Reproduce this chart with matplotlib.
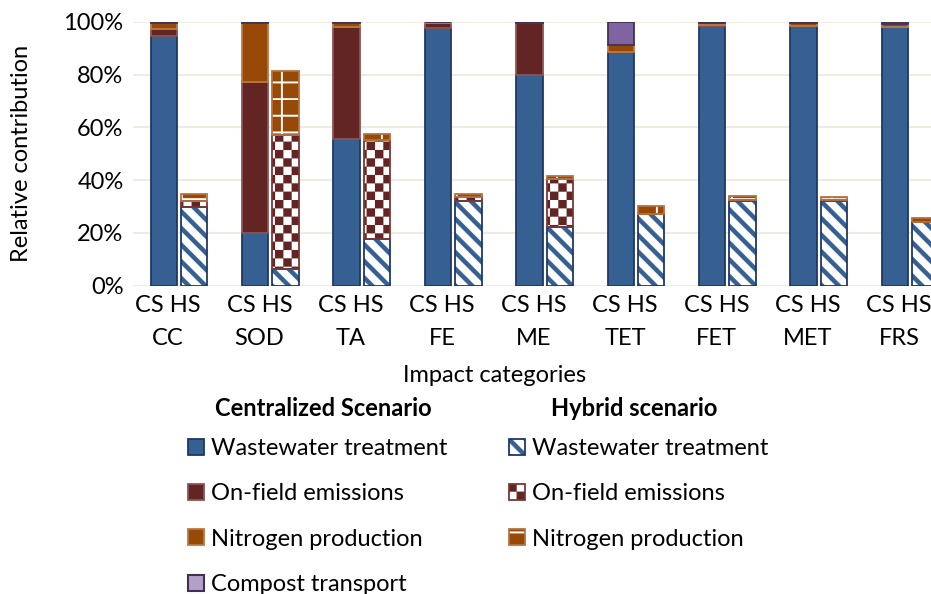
import numpy as np
import matplotlib
matplotlib.use("Agg")
import matplotlib.pyplot as plt
import matplotlib.hatch as mhatch
from matplotlib.path import Path
from matplotlib.patches import Patch

# ---------------- data ----------------
categories = ["CC", "SOD", "TA", "FE", "ME", "TET", "FET", "MET", "FRS"]
scenario_labels = ["CS", "HS"]

cs_wastewater = [94.7, 19.8, 55.4, 97.7, 79.8, 88.4, 98.5, 98.4, 98.0]
cs_onfield    = [2.5, 57.5, 42.5, 1.9, 19.8, 0.0, 0.1, 0.1, 0.0]
cs_nitrogen   = [2.2, 22.3, 1.7, 0.1, 0.0, 2.9, 1.0, 1.1, 1.1]
cs_compost    = [0.6, 0.4, 0.4, 0.3, 0.4, 8.7, 0.4, 0.4, 0.9]

hs_wastewater = [29.9, 6.2, 17.6, 32.2, 22.3, 27.0, 32.1, 32.1, 24.0]
hs_onfield    = [2.3, 50.9, 37.6, 1.4, 18.1, 0.3, 0.2, 0.2, 0.1]
hs_nitrogen   = [2.5, 24.2, 2.3, 1.1, 1.1, 3.0, 1.5, 1.4, 1.5]

series_labels = ["Wastewater treatment", "On-field emissions",
                 "Nitrogen production", "Compost transport"]
legend_titles = ["Centralized Scenario", "Hybrid scenario"]

# ---------------- custom filled hatch patterns ----------------
class _PolyHatch:
    char = None
    def __init__(self, hatch, density):
        self.polys = self.make_polys() if (self.char in hatch) else []
        self.num_vertices = sum(len(p) + 1 for p in self.polys)
    def make_polys(self):
        return []
    def set_vertices_and_codes(self, vertices, codes):
        i = 0
        for p in self.polys:
            n = len(p)
            vertices[i:i + n] = p
            vertices[i + n] = p[0]
            codes[i] = Path.MOVETO
            codes[i + 1:i + n] = Path.LINETO
            codes[i + n] = Path.CLOSEPOLY
            i += n + 1

class StripeHatch(_PolyHatch):          # thick stripes falling to the right
    char = "\\"
    def make_polys(self):
        polys = []
        per, w = 1 / 6, 0.062
        for k in range(-2, 16):
            c = k * per
            polys.append(np.array([[-1, c + 1], [2, c - 2], [2, c + w - 2], [-1, c + w + 1]]))
        return polys

class CheckerHatch(_PolyHatch):         # checkerboard
    char = "O"
    def make_polys(self):
        polys = []
        n = 12
        s = 1 / n
        for i in range(n):
            for j in range(n):
                if (i + j) % 2 == 0:
                    polys.append(np.array([[i * s, j * s], [(i + 1) * s, j * s],
                                           [(i + 1) * s, (j + 1) * s], [i * s, (j + 1) * s]]))
        return polys

class PlusHatch(_PolyHatch):            # thin grid lines
    char = "+"
    def make_polys(self):
        polys = []
        t = 0.018
        for k in range(6):
            y = k / 6
            polys.append(np.array([[0, y], [1, y], [1, y + t], [0, y + t]]))
        for k in range(4):
            xx = k / 4 + 0.06
            polys.append(np.array([[xx, 0], [xx + t, 0], [xx + t, 1], [xx, 1]]))
        return polys

mhatch._hatch_types = [StripeHatch, CheckerHatch, PlusHatch]

# ---------------- style ----------------
FONT = "Lato"
FS = 17
plt.rcParams["font.family"] = [FONT, "DejaVu Sans"]
plt.rcParams["font.size"] = FS
plt.rcParams["hatch.linewidth"] = 0.1

c_ww, c_of, c_n, c_ct = "#366092", "#632523", "#984807", "#8064A2"
e_ww, e_of, e_n, e_ct = "#1F3864", "#8A5654", "#B97A45", "#3F3151"

W, H = 931, 594
fig = plt.figure(figsize=(W / 100, H / 100), dpi=100)
ax_left, ax_right_span = 133.3, 822.6
ax_top, ax_bot = 21.7, 285.7
ax = fig.add_axes([ax_left / W, 1 - ax_bot / H, ax_right_span / W, (ax_bot - ax_top) / H])

x = np.arange(len(categories))
bw, off = 0.29, 0.166
xc, xh = x - off, x + off

# Centralized scenario bars
b = np.zeros(len(x))
cs_handles = []
for vals, fc, ec, lab in [(cs_wastewater, c_ww, e_ww, series_labels[0]),
                          (cs_onfield, c_of, e_of, series_labels[1]),
                          (cs_nitrogen, c_n, e_n, series_labels[2]),
                          (cs_compost, c_ct, e_ct, series_labels[3])]:
    h = ax.bar(xc, vals, bw, bottom=b, color=fc, edgecolor=ec, linewidth=1.3, label=lab, zorder=3)
    cs_handles.append(h)
    b = b + np.array(vals)
# legend swatch for compost transport is drawn lighter in the original
cs_handles[3] = Patch(facecolor="#B3A2C7", edgecolor=e_ct, linewidth=1.5)

# Hybrid scenario bars (hatched fill + outline)
b = np.zeros(len(x))
hs_handles = []
for vals, fc, hc, ec, hp, lab in [(hs_wastewater, "white", c_ww, e_ww, "\\", series_labels[0]),
                                  (hs_onfield, "white", c_of, "#7A3836", "O", series_labels[1]),
                                  (hs_nitrogen, c_n, "white", "#B4733E", "+", series_labels[2])]:
    h1 = ax.bar(xh, vals, bw, bottom=b, color=fc, edgecolor=hc, linewidth=0, hatch=hp, zorder=3)
    h2 = ax.bar(xh, vals, bw, bottom=b, fill=False, edgecolor=ec, linewidth=1.3, zorder=4)
    hs_handles.append((h1, h2))
    b = b + np.array(vals)

# axes styling
ax.set_xlim(-0.5, len(categories) - 0.5)
ax.set_ylim(0, 100)
ax.set_yticks(np.arange(0, 101, 20))
ax.set_yticklabels([f"{v}%" for v in range(0, 101, 20)])
ax.yaxis.grid(True, color="#EEECE1", linewidth=1.5)
ax.set_axisbelow(True)
for s in ax.spines.values():
    s.set_visible(False)
ax.tick_params(axis="both", length=0)
ax.tick_params(axis="y", pad=7)
ax.tick_params(axis="x", pad=7)
ax.set_xticks(x - 0.12)
ax.set_xticklabels([f"{scenario_labels[0]} {scenario_labels[1]}\n{c}" for c in categories],
                   linespacing=1.7)

ax.set_ylabel("Relative contribution")
ax.yaxis.label.set_va("center")
ax.yaxis.set_label_coords((22 - ax_left) / ax_right_span, 0.5)
ax.set_xlabel("Impact categories")
ax.xaxis.label.set_va("center")
ax.xaxis.set_label_coords((495 - ax_left) / ax_right_span, (ax_bot - 376) / (ax_bot - ax_top))

# legends
leg_kw = dict(loc="upper left", frameon=False, handlelength=0.68, handleheight=0.68,
              handletextpad=0.3, labelspacing=1.03, borderpad=0, borderaxespad=0)
leg1 = fig.legend(cs_handles, series_labels, bbox_to_anchor=(188 / W, 1 - 438 / H), **leg_kw)
leg2 = fig.legend(hs_handles, series_labels[:3], bbox_to_anchor=(509 / W, 1 - 438 / H), **leg_kw)
fig.text(323 / W, 1 - 409 / H, legend_titles[0], ha="center", va="center", fontweight="bold")
fig.text(634 / W, 1 - 409 / H, legend_titles[1], ha="center", va="center", fontweight="bold")

fig.savefig("out.png", dpi=100)
